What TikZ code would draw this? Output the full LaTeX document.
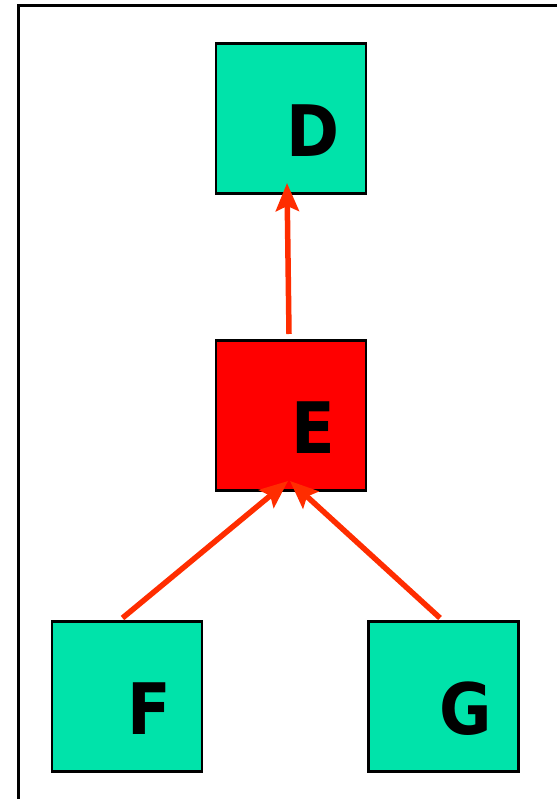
\documentclass[tikz,border=0pt]{standalone}
\usepackage{fontspec}
\setmainfont{DejaVu Sans}
\newfontfamily\lettrfont{DejaVu Sans Condensed}
\usetikzlibrary{positioning,arrows.meta}
\definecolor{boxgreen}{RGB}{0,227,170}
\definecolor{arrowred}{RGB}{255,45,0}

\begin{document}
\begin{tikzpicture}[%
    x=1pt,
    y=-1pt,
    >={Stealth[length=28pt,width=23pt,inset=5pt]},
    node distance=131pt,
    block/.style={%
      rectangle,
      minimum size=150pt,
      inner sep=0pt,
      outer sep=0pt,
      line width=2.5pt,
      draw,
      fill=boxgreen
    },
    lettr/.style={%
      font=\lettrfont\fontsize{71}{71}\selectfont\bfseries,
      inner sep=0pt,
      xshift=22pt,
      yshift=-12pt
    },
    link/.style={%
      ->,
      draw=arrowred,
      line width=5.5pt
    }
  ]
    \useasboundingbox (0,0) rectangle (556,799);
    \draw[line width=3pt] (18.5,5.5) rectangle (600,850);

    \node[block] (D) at (291,118.5)                                {};
    \node[block,fill=red] (E) [node distance=147pt,below=of D]     {};
    \node[block] (F) [node distance=131pt and 14pt,below left=of E] {};
    \node[block] (G) [node distance=131pt and 2.5pt,below right=of E] {};

    \node[lettr] (Dl) at (D.center) {D};
    \node[lettr] (El) at (E.center) {E};
    \node[lettr] (Fl) at (F.center) {F};
    \node[lettr] (Gl) at (G.center) {G};

    \draw[link] ([xshift=-2pt,yshift=6.5pt]E.north) -- ([xshift=-4pt,yshift=10.5pt]D.south);
    \draw[link] ([xshift=-4.5pt,yshift=3.5pt]F.north) -- ([xshift=-3pt,yshift=9.5pt]E.south);
    \draw[link] ([xshift=-3.5pt,yshift=3.5pt]G.north) -- ([xshift=-1pt,yshift=9.5pt]E.south);
  \end{tikzpicture}
\end{document}
